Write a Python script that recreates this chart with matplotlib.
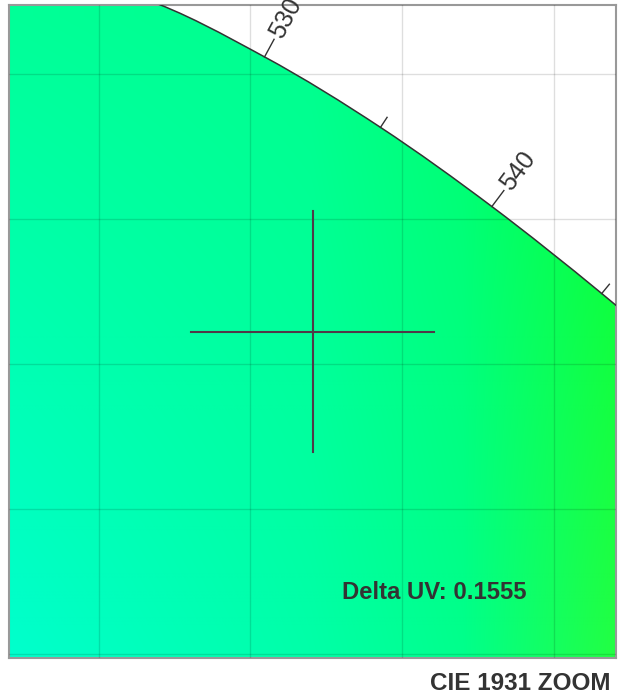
import numpy as np
import matplotlib
matplotlib.use("Agg")
import matplotlib.pyplot as plt
from matplotlib.path import Path
from matplotlib.patches import PathPatch

plt.rcParams['font.family'] = ['Liberation Sans', 'DejaVu Sans']

# spectral locus (CIE 1931 2 deg), wavelength in nm -> x, y
wavelengths = [505, 510, 515, 520, 525, 530, 535, 540, 545, 550, 555, 560]
locus_x = [0.0039, 0.0139, 0.0389, 0.0743, 0.1142, 0.1547, 0.1929, 0.2296, 0.2658, 0.3016, 0.3373, 0.3731]
locus_y = [0.6548, 0.7502, 0.8120, 0.8338, 0.8262, 0.8059, 0.7816, 0.7543, 0.7243, 0.6923, 0.6589, 0.6245]
labeled = [530, 540]
unlabeled = [535, 545]

# selected point and zoom window
point_x = 0.1705
point_y = 0.7112
half_w = 0.1
half_h = 0.1126
cross_x = 0.04
cross_y = 0.0417
delta_uv = 0.1555

# background colour samples
grad_x = [0.07, 0.17, 0.22, 0.27]
grad_y = [0.60, 0.82]
grad_bottom = [(0, 255, 205), (0, 255, 168), (0, 255, 140), (34, 255, 68)]
grad_top = [(0, 255, 152), (0, 255, 140), (0, 255, 110), (0, 255, 60)]

x0, x1 = point_x - half_w, point_x + half_w
y0, y1 = point_y - half_h, point_y + half_h


def smooth_path(px, py, extra=None):
    # catmull-rom through the points, drawn as bezier curves
    p = np.column_stack([px, py])
    n = len(p)
    verts = [p[0]]
    codes = [Path.MOVETO]
    for i in range(n - 1):
        a = p[i - 1] if i > 0 else p[i]
        b = p[i + 2] if i + 2 < n else p[i + 1]
        verts += [p[i] + (p[i + 1] - a) / 6, p[i + 1] - (b - p[i]) / 6, p[i + 1]]
        codes += [Path.CURVE4] * 3
    if extra:
        for e in extra:
            verts.append(e)
            codes.append(Path.LINETO)
        verts.append(p[0])
        codes.append(Path.CLOSEPOLY)
    return Path(verts, codes)


fig = plt.figure(figsize=(6.25, 6.98), dpi=100)
ax = fig.add_axes([9 / 625, 1 - 658 / 698, 607 / 625, 653 / 698])
ax.set_xlim(x0, x1)
ax.set_ylim(y0, y1)

# gradient fill clipped to the locus
gx = np.linspace(x0, x1, 400)
gy = np.linspace(y0, y1, 400)
bottom = np.stack([np.interp(gx, grad_x, [c[k] for c in grad_bottom]) for k in range(3)], -1)
top = np.stack([np.interp(gx, grad_x, [c[k] for c in grad_top]) for k in range(3)], -1)
t = np.clip((gy - grad_y[0]) / (grad_y[1] - grad_y[0]), 0, 1)
img = bottom[None, :, :] * (1 - t[:, None, None]) + top[None, :, :] * t[:, None, None]
im = ax.imshow(img / 255, extent=[x0, x1, y0, y1], origin='lower', aspect='auto',
               interpolation='bilinear', zorder=1)
clip = PathPatch(smooth_path(locus_x, locus_y, [(locus_x[-1], 0.4), (locus_x[0], 0.4)]),
                 transform=ax.transData, facecolor='none', edgecolor='none')
ax.add_patch(clip)
im.set_clip_path(clip)

ax.add_patch(PathPatch(smooth_path(locus_x, locus_y), facecolor='none',
                       edgecolor='#333333', lw=1.1, zorder=3))

# wavelength ticks, normal to the curve in screen space
pix = ax.transData.transform(np.column_stack([locus_x, locus_y]))
inv = ax.transData.inverted()
for wl in labeled + unlabeled:
    i = wavelengths.index(wl)
    tan = pix[i + 1] - pix[i - 1]
    n = np.array([-tan[1], tan[0]])
    n = n / np.hypot(*n)
    length = 20 if wl in labeled else 12
    p0 = pix[i]
    p1 = p0 + n * length
    d = inv.transform([p0, p1])
    ax.plot(d[:, 0], d[:, 1], color='#333333', lw=1, zorder=3)
    if wl in labeled:
        p2 = inv.transform(p0 + n * (length + 3))
        ang = np.degrees(np.arctan2(n[1], n[0]))
        ax.text(p2[0], p2[1], str(wl), rotation=ang, rotation_mode='anchor',
                ha='left', va='center', fontsize=18, color='#333333', zorder=4)

# crosshair
ax.plot([point_x - cross_x, point_x + cross_x], [point_y, point_y], color='#4f3a48', lw=1.5, zorder=4)
ax.plot([point_x, point_x], [point_y - cross_y, point_y + cross_y], color='#4f3a48', lw=1.5, zorder=4)

ax.set_xticks([0.10, 0.15, 0.20, 0.25])
ax.set_yticks([0.60, 0.65, 0.70, 0.75, 0.80])
ax.tick_params(length=0, labelbottom=False, labelleft=False)
ax.grid(True, color='black', alpha=0.13, lw=1, zorder=2)
ax.set_axisbelow(False)
for s in ax.spines.values():
    s.set_color('#999999')
    s.set_linewidth(1.5)

ax.text(0.853, 0.101, f"Delta UV: {delta_uv:.4f}", transform=ax.transAxes, ha='right', va='center',
        fontsize=17.2, fontweight='bold', color='#333333', zorder=5)
fig.text(0.976, 1 - 683 / 698, "CIE 1931 ZOOM", ha='right', va='center',
         fontsize=17.5, fontweight='bold', color='#333333')

fig.savefig("out.png", dpi=100)
